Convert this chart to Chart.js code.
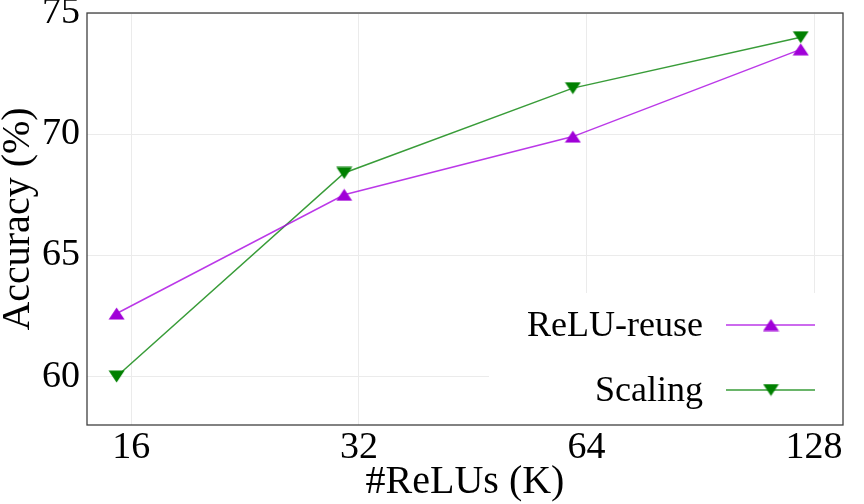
<!DOCTYPE html>
<html>
<head>
<meta charset="utf-8">
<script src="https://cdn.jsdelivr.net/npm/chart.js@4.4.1/dist/chart.umd.min.js"></script>
<style>
  html, body { margin: 0; padding: 0; background: #fff; }
  #wrap { width: 864px; height: 504px; }
</style>
</head>
<body>
<div id="wrap"><canvas id="c" width="864" height="504"></canvas></div>
<script>
// ---- data ----
const reluK = [15.3, 30.6, 61.4, 122.9];           // x positions (#ReLUs, K)
const reluReuse = [62.6, 67.5, 69.9, 73.5];        // ReLU-reuse accuracy (%)
const scaling = [60.0, 68.4, 71.9, 74.0];          // Scaling accuracy (%)
const xTickValues = [16, 32, 64, 128];
const xTickLabels = ['16', '32', '64', '128'];
const yTickValues = [60, 65, 70, 75];
const yTickLabels = ['60', '65', '70', '75'];
const seriesNames = ['ReLU-reuse', 'Scaling'];

const SERIF = "'Liberation Serif', 'Times New Roman', 'DejaVu Serif', serif";

function triangleImage(color, down) {
  const w = 17, h = 13;
  const cv = document.createElement('canvas');
  cv.width = w; cv.height = h;
  const g = cv.getContext('2d');
  g.fillStyle = color;
  g.beginPath();
  if (down) {
    g.moveTo(0.5, 0.5); g.lineTo(w - 0.5, 0.5); g.lineTo(w / 2, h - 0.5);
  } else {
    g.moveTo(w / 2, 0.5); g.lineTo(w - 0.5, h - 0.5); g.lineTo(0.5, h - 0.5);
  }
  g.closePath();
  g.fill();
  return cv;
}

const purpleLine = 'rgba(168, 0, 225, 0.78)';
const greenLine = 'rgba(0, 128, 0, 0.78)';
const upImg = triangleImage('#a000d8', false);
const downImg = triangleImage('#008000', true);

const legendPlugin = {
  id: 'insideLegend',
  afterDatasetsDraw(chart) {
    const ctx = chart.ctx;
    const a = chart.chartArea;
    ctx.save();
    // legend background (white, no frame)
    ctx.fillStyle = '#ffffff';
    ctx.fillRect(a.right - 354, a.bottom - 132, 354, 132);
    const rows = [
      { name: seriesNames[0], color: purpleLine, img: upImg, y: a.bottom - 100 },
      { name: seriesNames[1], color: greenLine, img: downImg, y: a.bottom - 35 }
    ];
    ctx.font = '36px ' + SERIF;
    ctx.textAlign = 'right';
    ctx.textBaseline = 'middle';
    rows.forEach(r => {
      ctx.fillStyle = '#000';
      ctx.fillText(r.name, a.right - 140, r.y + 2);
      ctx.strokeStyle = r.color;
      ctx.lineWidth = 1.5;
      ctx.beginPath();
      ctx.moveTo(a.right - 117, r.y);
      ctx.lineTo(a.right - 28, r.y);
      ctx.stroke();
      ctx.drawImage(r.img, a.right - 72 - r.img.width / 2, r.y - r.img.height / 2);
    });
    ctx.restore();
  },
  afterDraw(chart) {
    const ctx = chart.ctx;
    const a = chart.chartArea;
    ctx.save();
    ctx.strokeStyle = '#404040';
    ctx.lineWidth = 1.3;
    ctx.strokeRect(a.left, a.top, a.right - a.left, a.bottom - a.top);
    ctx.restore();
  }
};

new Chart(document.getElementById('c'), {
  type: 'line',
  data: {
    datasets: [
      {
        label: seriesNames[0],
        data: reluK.map((k, i) => ({ x: k, y: reluReuse[i] })),
        borderColor: purpleLine,
        backgroundColor: '#a000d8',
        borderWidth: 1.5,
        pointStyle: upImg,
        pointRadius: 8,
        pointHoverRadius: 8,
        tension: 0,
        fill: false
      },
      {
        label: seriesNames[1],
        data: reluK.map((k, i) => ({ x: k, y: scaling[i] })),
        borderColor: greenLine,
        backgroundColor: '#008000',
        borderWidth: 1.5,
        pointStyle: downImg,
        pointRadius: 8,
        pointHoverRadius: 8,
        tension: 0,
        fill: false
      }
    ]
  },
  options: {
    responsive: false,
    animation: false,
    devicePixelRatio: 1,
    layout: { padding: { top: 13, right: 21, left: 0, bottom: 0 } },
    plugins: {
      legend: { display: false },
      tooltip: { enabled: false }
    },
    scales: {
      x: {
        type: 'logarithmic',
        min: 13.98,
        max: 139.8,
        afterBuildTicks: s => { s.ticks = xTickValues.map(v => ({ value: v })); },
        afterFit: s => { s.height = 79; s.paddingLeft = 0; s.paddingRight = 0; },
        border: { display: false },
        grid: { color: '#ebebeb', lineWidth: 1, drawTicks: false },
        ticks: {
          color: '#000',
          font: { family: SERIF, size: 38 },
          padding: 0,
          maxRotation: 0,
          autoSkip: false,
          callback: (v, i) => xTickLabels[i]
        },
        title: {
          display: true,
          text: '#ReLUs (K)',
          color: '#000',
          font: { family: SERIF, size: 40, lineHeight: 1 },
          padding: { top: 0, bottom: 2 }
        }
      },
      y: {
        type: 'linear',
        min: 58,
        max: 75,
        afterBuildTicks: s => { s.ticks = yTickValues.map(v => ({ value: v })); },
        afterFit: s => { s.width = 87; s.paddingTop = 0; s.paddingBottom = 0; },
        border: { display: false },
        grid: { color: '#ebebeb', lineWidth: 1, drawTicks: false },
        ticks: {
          color: '#000',
          font: { family: SERIF, size: 38 },
          padding: 7,
          callback: (v, i) => yTickLabels[i]
        },
        title: {
          display: true,
          text: 'Accuracy (%)',
          color: '#000',
          font: { family: SERIF, size: 40, lineHeight: 0.9 },
          padding: { top: 0, bottom: 0 }
        }
      }
    }
  },
  plugins: [legendPlugin]
});
</script>
</body>
</html>
